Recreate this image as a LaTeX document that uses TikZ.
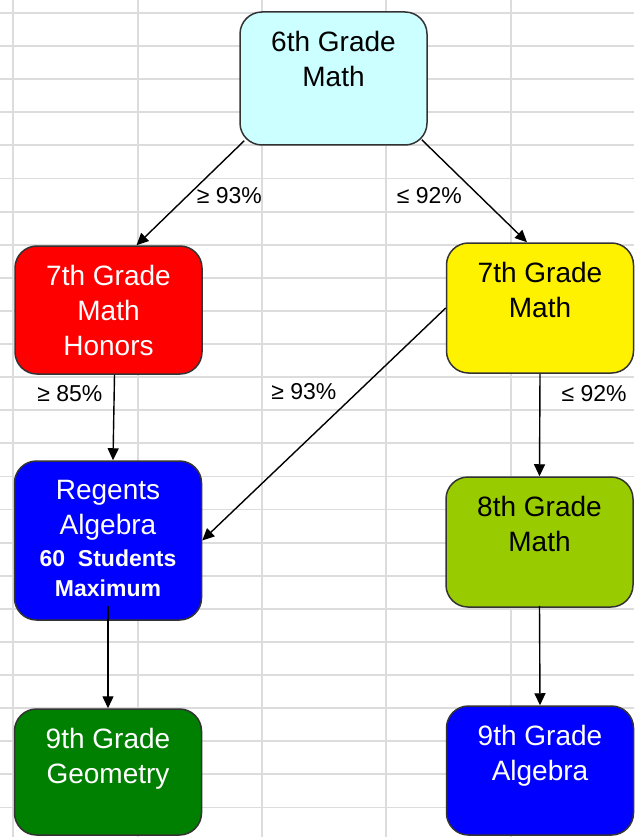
\documentclass[tikz,border=0pt]{standalone}
\usepackage{fontspec}
\setmainfont{Liberation Sans}
\usetikzlibrary{arrows.meta}

\definecolor{gridgray}{HTML}{DCDCDC}
\definecolor{sixcyan}{HTML}{CCFFFF}
\definecolor{eightgreen}{HTML}{99CC00}
\definecolor{geogreen}{HTML}{008000}

\begin{document}
\begin{tikzpicture}[x=1pt, y=-1pt, line join=round, >={Triangle[length=12pt,width=11pt]},
		gridline/.style={gridgray, line width=1.8pt},
		grade/.style={draw=black!80, line width=1.5pt, rounded corners=22pt, minimum width=187pt, inner sep=0pt},
		gradetext/.style={anchor=north, inner sep=0pt, yshift=-20pt, align=center, font=\fontsize{28}{35}\selectfont},
		pct/.style={inner sep=2pt, font=\fontsize{23}{26}\selectfont},
		flow/.style={->, line width=1.4pt}]
	\useasboundingbox (0,0) rectangle (634,837);
	\fill[white] (0,0) rectangle (634,837);
	% spreadsheet grid
	\foreach \gx in {13,138,262,386,511} \draw[gridline] (\gx,0) -- (\gx,837);
	\foreach \k in {0,...,24} \draw[gridline] (0,{13+33.1*\k}) -- (634,{13+33.1*\k});
	% boxes
	\node[grade, fill=sixcyan, minimum height=133pt] (six) at (333.5,78.5) {};
	\node[grade, fill=red, minimum height=128pt] (hon) at (108.5,310) {};
	\node[grade, fill=yellow, minimum height=130pt] (sev) at (540,308) {};
	\node[grade, fill=blue, minimum height=159pt] (reg) at (108,540.5) {};
	\node[grade, fill=eightgreen, minimum height=130pt] (eig) at (539.5,542) {};
	\node[grade, fill=geogreen, minimum height=126pt] (geo) at (108,772) {};
	\node[grade, fill=blue, minimum height=129pt] (alg) at (540,770.5) {};
	% texts
	\node[gradetext] (sixt) at (six.north) {6th Grade\\Math};
	\node[gradetext, text=white] (hont) at (hon.north) {7th Grade\\Math\\Honors};
	\node[gradetext] (sevt) at (sev.north) {7th Grade\\Math};
	\node[gradetext, text=white] (regt) at (reg.north) {Regents\\Algebra\\[-3pt]\bfseries\fontsize{23}{31}\selectfont 60\ \ Students\\[-5pt]\bfseries\fontsize{23}{31}\selectfont Maximum};
	\node[gradetext] (eigt) at (eig.north) {8th Grade\\Math};
	\node[gradetext, text=white] (geot) at (geo.north) {9th Grade\\Geometry};
	\node[gradetext, text=white] (algt) at (alg.north) {9th Grade\\Algebra};
	% arrows
	\draw[flow] ([xshift=5pt,yshift=5pt]six.south west) -- node[pct, pos=0.52, right=6pt] (p1) {≥ 93\%} ([xshift=28pt]hon.north);
	\draw[flow] ([xshift=-6pt,yshift=6pt]six.south east) -- node[pct, pos=0.54, left=14pt] (p2) {≤ 92\%} ([xshift=-13pt]sev.north);
	\draw[flow] ([xshift=6pt]hon.south) -- node[pct, pos=0.22, left=9pt] (p3) {≥ 85\%} ([xshift=5pt]reg.north);
	\draw[flow] (sev.west) -- node[pct, pos=0.36, left=19pt] (p4) {≥ 93\%} (reg.east);
	\draw[flow] (sev.south) -- node[pct, pos=0.19, right=19pt] (p5) {≤ 92\%} (eig.south |- eig.north);
	\draw[flow] ([yshift=15pt]reg.south) -- (geo.north);
	\draw[flow] ([yshift=2pt]eig.south) -- (alg.north);
\end{tikzpicture}
\end{document}
